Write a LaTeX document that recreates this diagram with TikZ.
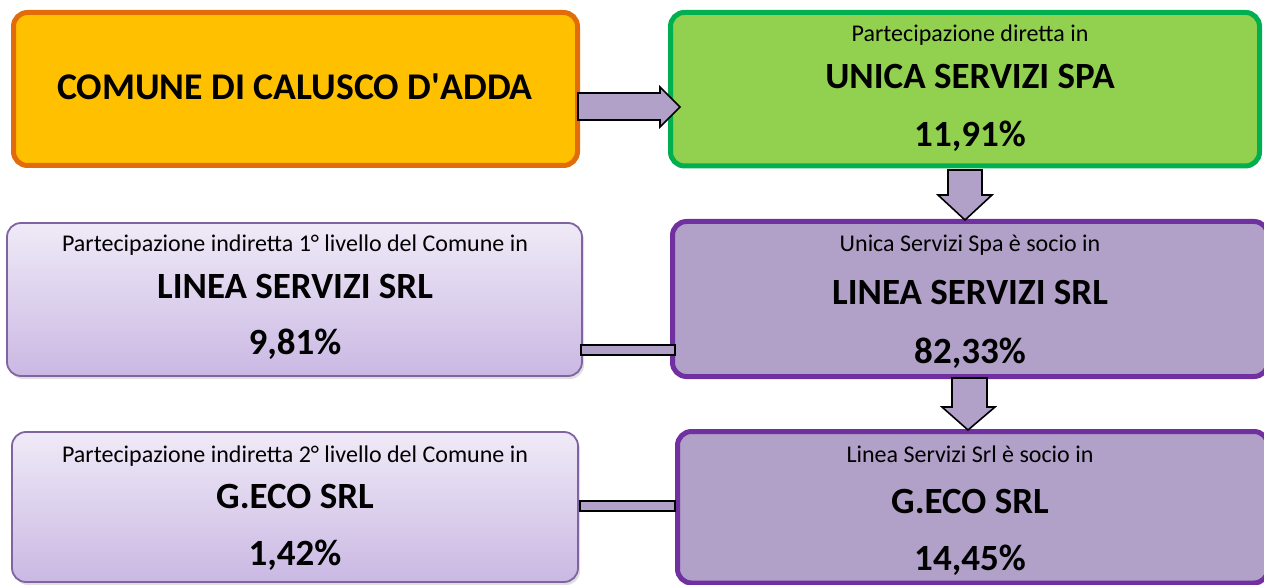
\documentclass[tikz,border=0pt]{standalone}
\usepackage{fontspec}
\setmainfont{Carlito}
\newfontfamily\plaincarlito{Carlito}
\usetikzlibrary{shadows}
\definecolor{orfill}{HTML}{FFC000}
\definecolor{ordraw}{HTML}{E36C0A}
\definecolor{grfill}{HTML}{92D050}
\definecolor{grdraw}{HTML}{00B050}
\definecolor{pufill}{HTML}{B1A0C7}
\definecolor{pudraw}{HTML}{7030A0}
\definecolor{lvdraw}{HTML}{8064A2}
\definecolor{lvtop}{HTML}{EFEAF7}
\definecolor{lvbot}{HTML}{CAB8E3}
\begin{document}
\begin{tikzpicture}[x=1pt,y=-1pt,
  thickbox/.style={rounded corners=14pt, line width=5pt, inner sep=0pt},
  lightbox/.style={rounded corners=14pt, line width=1.8pt, draw=lvdraw, inner sep=0pt,
     top color=lvtop, bottom color=lvbot, middle color=lvtop!50!lvbot,
     drop shadow={opacity=0.25, shadow xshift=2pt, shadow yshift=-3pt}},
  blockarrow/.style={fill=pufill, draw=black, line width=1.6pt, line join=miter},
  smalltxt/.style={font=\fontsize{24}{28}\selectfont, anchor=base, inner sep=0pt},
  nametxt/.style={font=\bfseries\fontsize{37}{44}\selectfont, anchor=base, inner sep=0pt},
  pcttxt/.style={font=\bfseries\fontsize{37}{44}\selectfont, anchor=base, inner sep=0pt},
  bigtxt/.style={font=\bfseries\fontsize{37.7}{45}\selectfont, anchor=base, inner sep=0pt}]
\useasboundingbox (0,0) rectangle (1264,585);
\begin{scope}
\clip (0,0) rectangle (1264,585);
% boxes
\node[thickbox, fill=orfill, draw=ordraw, minimum width=564pt, minimum height=153pt] (comune) at (295.5,89) {};
\node[thickbox, fill=grfill, draw=grdraw, minimum width=589pt, minimum height=153.5pt] (unica) at (965,89.2) {};
\node[thickbox, fill=pufill, draw=pudraw, minimum width=595.5pt, minimum height=155pt] (lineaR) at (970.25,299) {};
\node[thickbox, fill=pufill, draw=pudraw, minimum width=590.5pt, minimum height=151.5pt] (gecoR) at (972.75,507.25) {};
\node[lightbox, minimum width=575pt, minimum height=153pt] (lineaL) at (294.5,299.5) {};
\node[lightbox, minimum width=566pt, minimum height=150pt] (gecoL) at (295,507) {};
% connectors
\draw[blockarrow] (578,93) -- (660,93) -- (660,87) -- (680,107) -- (660,127) -- (660,120) -- (578,120) -- cycle;
\draw[blockarrow] (948,170) -- (982,170) -- (982,195) -- (992,195) -- (965,220) -- (938,195) -- (948,195) -- cycle;
\draw[blockarrow] (952,378) -- (987,378) -- (987,407) -- (995,407) -- (968,430) -- (942,407) -- (952,407) -- cycle;
\draw[blockarrow] (581,345) rectangle (675,355);
\draw[blockarrow] (580,501) rectangle (675,511);
% texts
\node[bigtxt] (t0) at (295,100) {COMUNE DI CALUSCO D{\plaincarlito\bfseries '}ADDA};
\node[smalltxt] (t1a) at (970,42) {Partecipazione diretta in};
\node[nametxt] (t1b) at (970,89) {UNICA SERVIZI SPA};
\node[pcttxt] (t1c) at (970,147) {11,91\%};
\node[smalltxt] (t2a) at (295,252) {Partecipazione indiretta 1° livello del Comune in};
\node[nametxt] (t2b) at (295,299) {LINEA SERVIZI SRL};
\node[pcttxt] (t2c) at (295,355) {9,81\%};
\node[smalltxt] (t3a) at (970,252) {Unica Servizi Spa è socio in};
\node[nametxt] (t3b) at (970,305) {LINEA SERVIZI SRL};
\node[pcttxt] (t3c) at (970,363) {82,33\%};
\node[smalltxt] (t4a) at (295,462) {Partecipazione indiretta 2° livello del Comune in};
\node[nametxt] (t4b) at (295,508) {G.ECO SRL};
\node[pcttxt] (t4c) at (295,565) {1,42\%};
\node[smalltxt] (t5a) at (970,462) {Linea Servizi Srl è socio in};
\node[nametxt] (t5b) at (970,513) {G.ECO SRL};
\node[pcttxt] (t5c) at (970,570) {14,45\%};
\end{scope}
\end{tikzpicture}
\end{document}
